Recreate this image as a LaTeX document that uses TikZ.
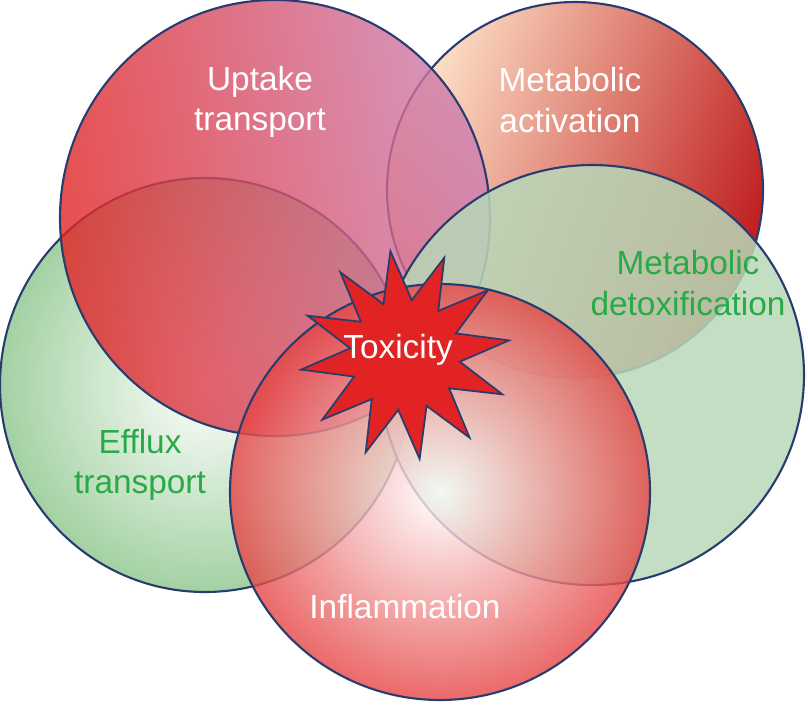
\documentclass[tikz,border=0pt]{standalone}
\usepackage{fontspec}
\setmainfont{Liberation Sans}
\usetikzlibrary{shapes.geometric}
\definecolor{tgreen}{RGB}{40,170,70}
\definecolor{tred}{RGB}{225,35,35}
\definecolor{edge}{RGB}{40,60,110}
\begin{document}
\begin{tikzpicture}[x=0.02cm,y=-0.02cm,
  ring/.style={draw=edge, line width=1.2pt},
  lbl/.style={font=\fontsize{19}{23}\selectfont, align=center}]
\useasboundingbox (0,0) rectangle (808,704);
\path[ring, left color=orange!20, right color=tred!85!black, shading angle=70] (575,190) ellipse [x radius=188, y radius=188];
\path[ring, fill opacity=0.8, inner color=white, outer color=green!50!black!45] (205,385) ellipse [x radius=205, y radius=207];
\path[ring, fill opacity=0.8, left color=tred, right color=blue!40!red!50, shading angle=100] (275,218) ellipse [x radius=215, y radius=218];
\path[ring, fill opacity=0.85, fill=green!45!black!28] (592,375) ellipse [x radius=212, y radius=210];
\path[ring, fill opacity=0.8, inner color=white, outer color=tred!85] (440,492) ellipse [x radius=210, y radius=208];
\node[lbl, text=white] (up) at (260,102) {Uptake\\transport};
\node[lbl, text=white] (act) at (570,100) {Metabolic\\activation};
\node[lbl, text=tgreen] (det) at (688,283) {Metabolic\\detoxification};
\node[lbl, text=tgreen] (eff) at (140,465) {Efflux\\transport};
\node[lbl, text=white] (inf) at (405,607) {Inflammation};
\node[star, star points=12, star point ratio=1.9, minimum size=4.2cm, inner sep=0pt,
  fill=tred, draw=edge, line width=1pt, rotate=8] (tox) at (405,355) {};
\node[lbl, text=white] at (398,350) {Toxicity};
\end{tikzpicture}
\end{document}
